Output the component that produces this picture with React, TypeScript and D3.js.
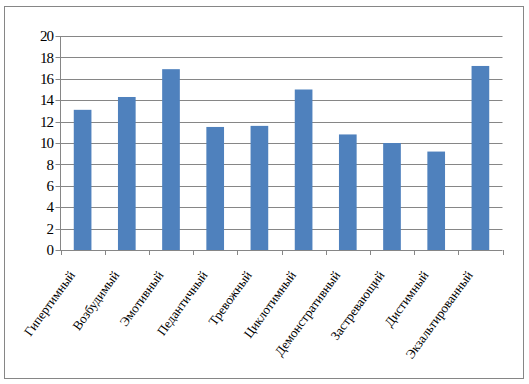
import React from "react";
import * as d3 from "d3";

const categories = [
  "Гипертимный",
  "Возбудимый",
  "Эмотивный",
  "Педантичный",
  "Тревожный",
  "Циклотимный",
  "Демонстративный",
  "Застревающий",
  "Дистимный",
  "Экзальтированный",
];
const values = [13.1, 14.3, 16.9, 11.5, 11.6, 15.0, 10.8, 10.0, 9.2, 17.2];
const yTicks = [0, 2, 4, 6, 8, 10, 12, 14, 16, 18, 20];

const W = 529;
const H = 384;
const left = 60.5;
const right = 502.5;
const top = 36;
const bottom = 250;

export default function App() {
  const x = d3.scaleBand<string>().domain(categories).range([left, right]).paddingInner(0.6).paddingOuter(0.3);
  const band = d3.scaleBand<string>().domain(categories).range([left, right]).padding(0);
  const y = d3.scaleLinear().domain([0, 20]).range([bottom, top]);
  const grey = "#868686";
  const boundaries = categories.map((c) => band(c)!).concat([right]);
  return (
    <svg width={W} height={H} style={{ position: "absolute", left: 0, top: 0, background: "#fff" }}>
      <rect x={4.5} y={6.5} width={519} height={372} fill="#fff" stroke={grey} strokeWidth={1} />
      {yTicks.map((t) => (
        <g key={t}>
          <line x1={left - 5} x2={right} y1={Math.round(y(t)) + 0.5} y2={Math.round(y(t)) + 0.5} stroke={grey} strokeWidth={1} />
          <text
            x={53}
            y={y(t)}
            dy="0.35em"
            textAnchor="end"
            fontFamily="'Liberation Serif', serif"
            fontSize={15}
            letterSpacing={-1}
            fill="#000"
          >
            {t}
          </text>
        </g>
      ))}
      {values.map((v, i) => (
        <rect
          key={i}
          x={x(categories[i])!}
          width={x.bandwidth()}
          y={y(v)}
          height={y(0) - y(v)}
          fill="#4F81BD"
        />
      ))}
      <line x1={left} x2={left} y1={top} y2={bottom} stroke={grey} />
      {boundaries.map((b, i) => (
        <line key={i} x1={Math.round(b) + 0.5} x2={Math.round(b) + 0.5} y1={bottom} y2={bottom + 5} stroke={grey} />
      ))}
      {categories.map((c) => {
        const cx = band(c)! + band.bandwidth() / 2;
        return (
          <text
            key={c}
            transform={`translate(${cx - 7},${bottom + 25}) rotate(-54)`}
            textAnchor="end"
            fontFamily="'Liberation Serif', serif"
            fontSize={13}
            fill="#000"
          >
            {c}
          </text>
        );
      })}
    </svg>
  );
}
